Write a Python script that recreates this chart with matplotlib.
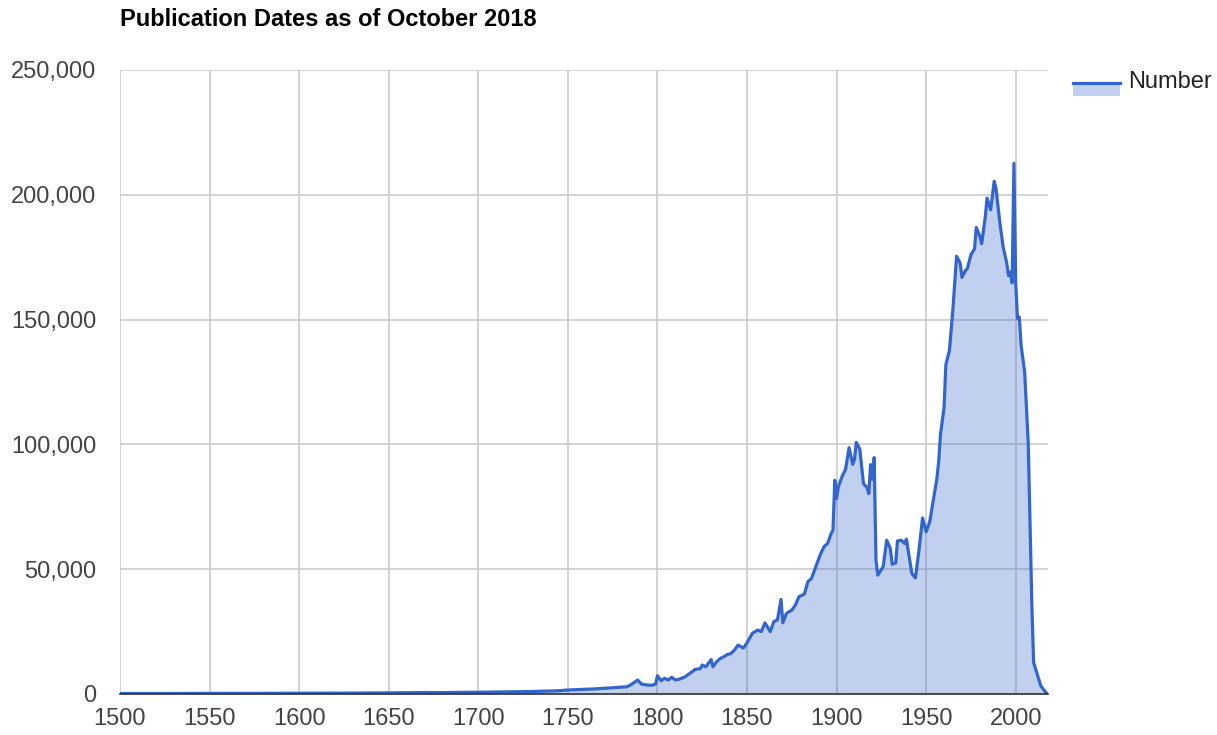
import matplotlib
matplotlib.use("Agg")
import matplotlib.pyplot as plt
from matplotlib.patches import Rectangle
from matplotlib.lines import Line2D
from matplotlib.ticker import FuncFormatter

title = "Publication Dates as of October 2018"
series_name = "Number"

years = [1500, 1525, 1550, 1575, 1600, 1625, 1650, 1660, 1670, 1680, 1690, 1700,
         1710, 1720, 1730, 1740, 1745, 1750, 1764, 1773, 1783, 1785, 1789, 1791,
         1794, 1797, 1799, 1800, 1802, 1804, 1806, 1808, 1810, 1812, 1815, 1818,
         1821, 1824, 1825, 1827, 1830, 1831, 1833, 1835, 1837, 1839, 1841, 1843,
         1845, 1848, 1850, 1853, 1856, 1858, 1860, 1863, 1865, 1867, 1869, 1870,
         1872, 1875, 1877, 1879, 1882, 1884, 1886, 1891, 1893, 1895, 1897, 1898,
         1899, 1900, 1901, 1903, 1905, 1907, 1909, 1910, 1911, 1913, 1915, 1917,
         1918, 1919, 1920, 1921, 1922, 1923, 1926, 1928, 1930, 1931, 1933, 1934,
         1936, 1938, 1939, 1941, 1942, 1944, 1946, 1948, 1950, 1952, 1954, 1956,
         1957, 1958, 1960, 1961, 1963, 1965, 1967, 1969, 1970, 1972, 1973, 1975,
         1977, 1978, 1980, 1981, 1983, 1984, 1986, 1988, 1989, 1991, 1993, 1995,
         1996, 1997, 1998, 1999, 2000, 2001, 2002, 2003, 2005, 2007, 2009, 2010,
         2012, 2014, 2017, 2018]
values = [200, 200, 250, 250, 300, 350, 450, 500, 600, 550, 650, 700,
          800, 900, 1000, 1200, 1300, 1600, 2000, 2400, 2900, 3600, 5600, 4000,
          3600, 3500, 4000, 7300, 5300, 6300, 5600, 6700, 5600, 5900, 6700, 8200,
          9800, 10200, 11600, 10900, 13800, 10900, 12900, 14200, 14900, 15800, 16200, 17600,
          19600, 18400, 20500, 24300, 25600, 25000, 28500, 25000, 29000, 29700, 37900, 28500,
          32300, 33600, 35600, 39000, 40000, 45000, 46300, 56000, 59000, 60300, 64300, 65600,
          85600, 78300, 83000, 87000, 90000, 98700, 92000, 94000, 100800, 98000, 84300, 82700,
          80300, 91900, 86000, 94700, 53600, 47600, 51000, 61600, 58300, 52000, 52500, 61300,
          61600, 60300, 62000, 53000, 48300, 46500, 57600, 70500, 65000, 69000, 77600, 86300,
          93000, 104000, 114700, 131900, 137600, 154700, 175400, 172600, 166900, 169700, 170400, 176000,
          178300, 186900, 183300, 180400, 191000, 198700, 194000, 205400, 202600, 189700, 179000, 172600,
          167600, 169000, 164700, 212600, 164700, 150400, 151000, 139700, 129000, 100400, 36000, 12600,
          8000, 3300, 400, 200]

x_ticks = [1500, 1550, 1600, 1650, 1700, 1750, 1800, 1850, 1900, 1950, 2000]
y_ticks = [0, 50000, 100000, 150000, 200000, 250000]

LINE = "#3366CC"
FONT = ["Liberation Sans", "DejaVu Sans"]
plt.rcParams["font.family"] = FONT

fig = plt.figure(figsize=(12.17, 7.35), dpi=100)
ax = fig.add_axes([0.0986, 0.0558, 0.7625, 0.849])

ax.fill_between(years, values, 0, color=LINE, alpha=0.3, linewidth=0, zorder=2)
ax.plot(years, values, color=LINE, linewidth=2.3, zorder=3, solid_joinstyle="round")

ax.set_xlim(1500, 2018)
ax.set_ylim(0, 250000)
ax.set_xticks(x_ticks)
ax.set_yticks(y_ticks)
ax.yaxis.set_major_formatter(FuncFormatter(lambda v, p: f"{int(v):,}"))
ax.grid(True, color="#cccccc", linewidth=1.2, zorder=1)
ax.set_axisbelow(True)
for s in ["top", "right", "left"]:
    ax.spines[s].set_visible(False)
ax.spines["bottom"].set_color("#333333")
ax.spines["bottom"].set_linewidth(1.2)
ax.spines["bottom"].set_zorder(4)
ax.tick_params(axis="both", length=0, labelsize=17, labelcolor="#444444")
ax.tick_params(axis="x", pad=10)
ax.tick_params(axis="y", pad=17)

fig.text(0.0986, 0.974, title, fontsize=17, fontweight="bold", ha="left", va="center", color="#000000")

# legend
lx0, lx1 = 1073 / 1217, 1120 / 1217
ly = 1 - 83 / 735
fig.patches.append(Rectangle((lx0, ly - 13 / 735), lx1 - lx0, 13 / 735, transform=fig.transFigure,
                             facecolor=LINE, alpha=0.3, edgecolor="none"))
fig.lines.append(Line2D([lx0, lx1], [ly, ly], transform=fig.transFigure, color=LINE, linewidth=2.3))
fig.text(1128 / 1217, ly + 1 / 735, series_name, fontsize=17, ha="left", va="center", color="#222222")

fig.savefig("out.png", dpi=100)
